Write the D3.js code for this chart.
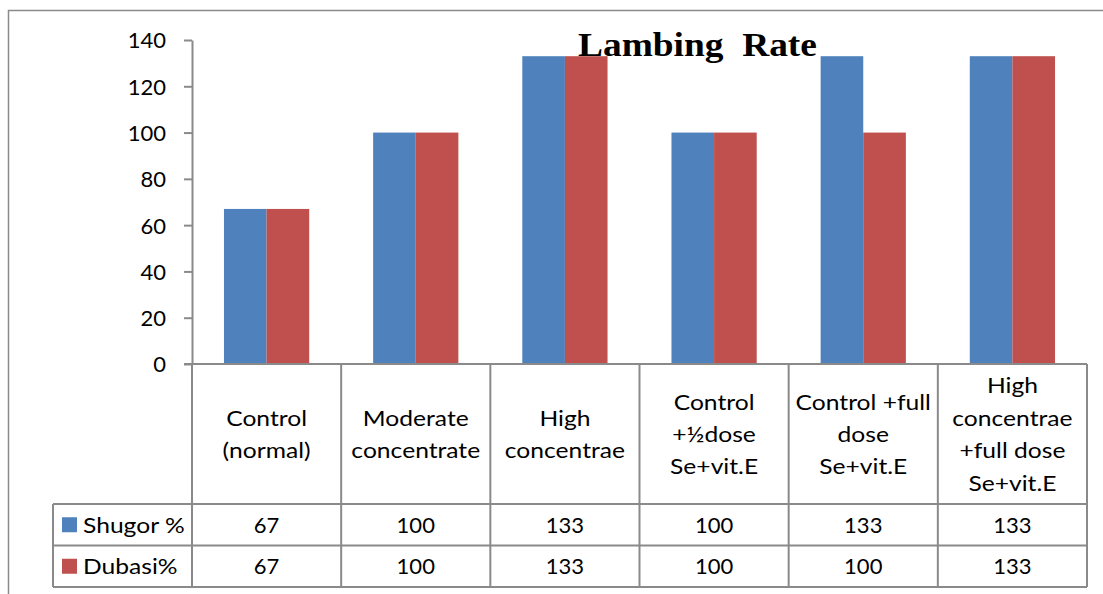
<!DOCTYPE html>
<html>
<head>
<meta charset="utf-8">
<script src="https://cdn.jsdelivr.net/npm/d3@7"></script>
<style>
  html, body { margin: 0; padding: 0; background: #fff; }
  svg { display: block; }
  text { font-family: Lato, "Open Sans", sans-serif; fill: #000; }
</style>
</head>
<body>
<svg id="chart" width="1103" height="594"></svg>
<script>
// Lambing rate by ration treatment, two breeds
const categories = [
  "Control\n(normal)",
  "Moderate\nconcentrate",
  "High\nconcentrae",
  "Control\n+½dose\nSe+vit.E",
  "Control +full\ndose\nSe+vit.E",
  "High\nconcentrae\n+full dose\nSe+vit.E"
];
const seriesNames = ["Shugor %", "Dubasi%"];
const shugor = [67, 100, 133, 100, 133, 133];
const dubasi = [67, 100, 133, 100, 100, 133];
const seriesValues = [shugor, dubasi];
const seriesColors = ["#4F81BD", "#C0504D"];
const yTicks = [0, 20, 40, 60, 80, 100, 120, 140];
const chartTitle = "Lambing  Rate";

const svg = d3.select("#chart");
const gridColor = "#8a8a8a";
const wordStretch = 1.12;   // widen the sans labels to a Calibri-like set width

// plot geometry
const plotLeft = 192, plotRight = 1087, plotTop = 40, plotBase = 364;
const catBottom = 504, row1Bottom = 545.5, row2Bottom = 587, legendLeft = 53;

// outer chart frame (left and top edges visible)
svg.append("path")
  .attr("d", `M8.5,600V10.5H1110`)
  .attr("fill", "none").attr("stroke", gridColor).attr("stroke-width", 1.5);

const x0 = d3.scaleBand().domain(d3.range(categories.length)).range([plotLeft, plotRight]).paddingInner(0).paddingOuter(0);
const x1 = d3.scaleBand().domain(d3.range(seriesNames.length)).range([0, x0.bandwidth()]).paddingInner(0).paddingOuter(0.75);
const y = d3.scaleLinear().domain([0, 140]).range([plotBase, plotTop]);

// bars
const groups = svg.append("g").selectAll("g")
  .data(categories.map((c, i) => i))
  .join("g")
  .attr("transform", i => `translate(${x0(i)},0)`);

groups.selectAll("rect")
  .data(i => seriesValues.map((vals, s) => ({ s, v: vals[i] })))
  .join("rect")
  .attr("x", d => x1(d.s))
  .attr("y", d => y(d.v))
  .attr("width", x1.bandwidth())
  .attr("height", d => y(0) - y(d.v))
  .attr("fill", d => seriesColors[d.s]);

// y axis
const yAxis = svg.append("g")
  .attr("transform", `translate(${plotLeft},0)`)
  .call(d3.axisLeft(y).tickValues(yTicks).tickSize(8).tickSizeOuter(0).tickPadding(18));
yAxis.select(".domain").attr("stroke", gridColor).attr("stroke-width", 2);
yAxis.selectAll(".tick line").attr("stroke", gridColor).attr("stroke-width", 2);
yAxis.selectAll(".tick text")
  .attr("font-family", "Lato, sans-serif")
  .attr("font-size", 22)
  .attr("fill", "#000")
  .attr("dy", "0.36em");

// data table grid
const grid = svg.append("g").attr("stroke", gridColor).attr("stroke-width", 2).attr("fill", "none");
grid.append("line").attr("x1", plotLeft - 8).attr("x2", plotRight).attr("y1", plotBase).attr("y2", plotBase);
[catBottom, row1Bottom, row2Bottom].forEach(yy => {
  grid.append("line").attr("x1", legendLeft).attr("x2", plotRight).attr("y1", yy).attr("y2", yy);
});
const colEdges = categories.map((c, i) => x0(i)).concat([plotRight]);
colEdges.forEach(xx => {
  grid.append("line").attr("x1", xx).attr("x2", xx).attr("y1", plotBase).attr("y2", row2Bottom);
});
grid.append("line").attr("x1", legendLeft).attr("x2", legendLeft).attr("y1", catBottom).attr("y2", row2Bottom);

// category labels in the header cells
const lineH = 32.5;
const catMid = (plotBase + catBottom) / 2;
svg.append("g").selectAll("text")
  .data(categories)
  .join("text")
  .attr("text-anchor", "middle")
  .attr("font-size", 22)
  .attr("transform", (c, i) => `translate(${x0(i) + x0.bandwidth() / 2},${catMid}) scale(${wordStretch},1)`)
  .each(function (c) {
    const lines = c.split("\n");
    const t = d3.select(this);
    lines.forEach((ln, k) => {
      t.append("tspan")
        .attr("x", 0)
        .attr("y", -(lines.length - 1) / 2 * lineH + 8 + k * lineH)
        .text(ln);
    });
  });

// value rows with legend keys
const rowTops = [catBottom, row1Bottom];
const rowH = row1Bottom - catBottom;
seriesNames.forEach((name, s) => {
  const cy = rowTops[s] + rowH / 2;
  svg.append("rect")
    .attr("x", 62).attr("y", cy - 7.5)
    .attr("width", 15).attr("height", 15)
    .attr("fill", seriesColors[s]);
  svg.append("text")
    .attr("transform", `translate(83,${cy + 8}) scale(${wordStretch},1)`)
    .attr("font-size", 22)
    .text(name);
  svg.append("g").selectAll("text")
    .data(seriesValues[s])
    .join("text")
    .attr("text-anchor", "middle")
    .attr("font-size", 22)
    .attr("x", (v, i) => x0(i) + x0.bandwidth() / 2)
    .attr("y", cy + 8)
    .text(v => v);
});

// chart title
svg.append("text")
  .attr("transform", "translate(578,56) scale(1.1,1)")
  .attr("font-weight", "bold")
  .attr("font-size", 34)
  .style("white-space", "pre")
  .style("font-family", "'Liberation Serif', 'Times New Roman', serif")
  .text(chartTitle);
</script>
</body>
</html>
